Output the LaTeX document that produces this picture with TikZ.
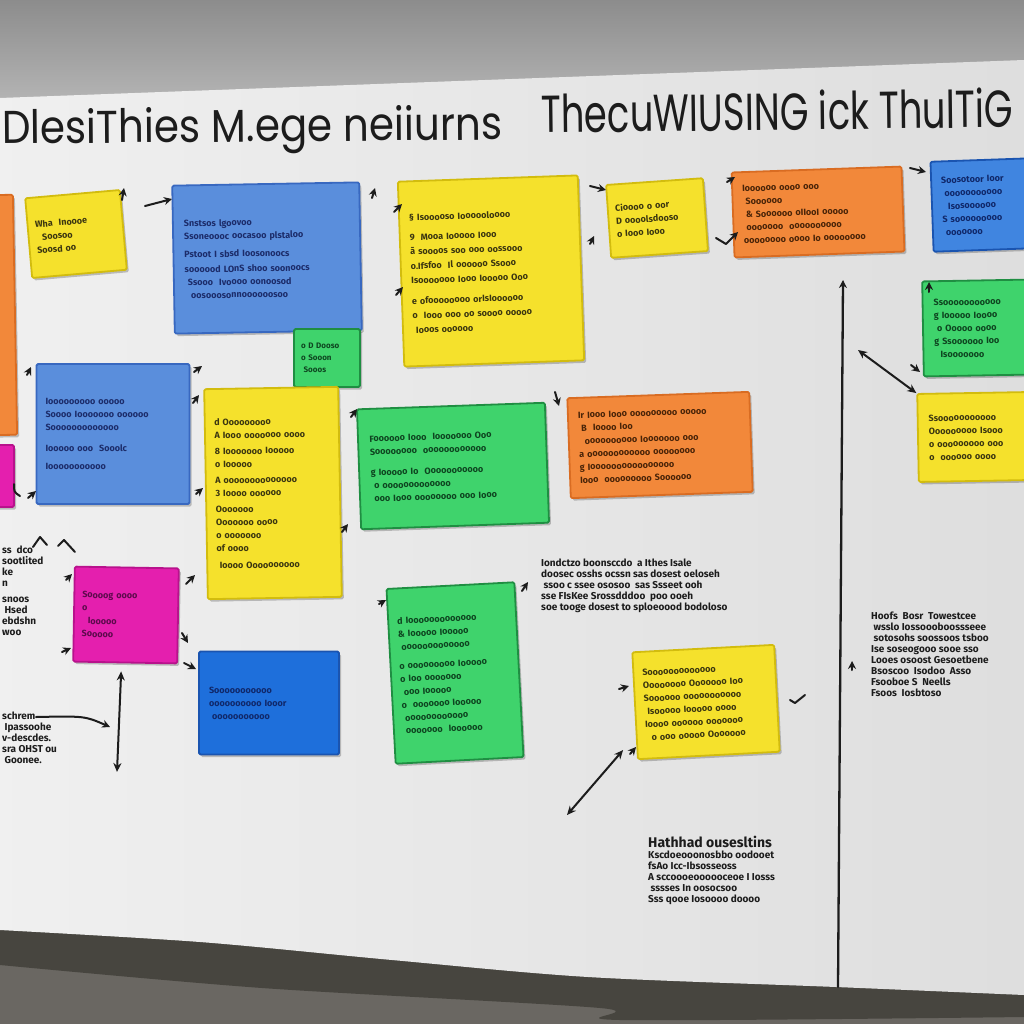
\documentclass[tikz,border=0pt]{standalone}
\usepackage{fontspec}
\setmainfont{Fira Sans}
\newfontfamily\titlefont{Poppins}
\usetikzlibrary{arrows.meta,calc,shadows}
\definecolor{ink}{HTML}{1C1C1C}
\definecolor{yel}{HTML}{F5E12C}\definecolor{yelB}{HTML}{D2BC0E}\definecolor{yelT}{HTML}{3B3610}
\definecolor{bluA}{HTML}{5A8EDC}\definecolor{bluAB}{HTML}{3868C0}\definecolor{bluAT}{HTML}{1C2C6A}
\definecolor{bluB}{HTML}{1E6FDB}\definecolor{bluBB}{HTML}{1A54B0}\definecolor{bluBT}{HTML}{10286A}
\definecolor{grn}{HTML}{3FD36C}\definecolor{grnB}{HTML}{1F8E42}\definecolor{grnT}{HTML}{0E4520}
\definecolor{org}{HTML}{F2883A}\definecolor{orgB}{HTML}{D96C22}\definecolor{orgT}{HTML}{4A2408}
\definecolor{mag}{HTML}{E41FAE}\definecolor{magB}{HTML}{B8128C}\definecolor{magT}{HTML}{5C0A4C}
\definecolor{floorA}{HTML}{6A6762}\definecolor{floorB}{HTML}{47453F}
\newcommand\notefont{\fontsize{9}{13}\selectfont\bfseries}
\newcommand\scribfont{\fontsize{10}{14}\selectfont\bfseries}
\tikzset{
  note/.style={draw, line width=1.8pt, line join=round, rounded corners=1.5pt, align=left,
    inner sep=5pt, font=\notefont,
    general shadow={fill=black, opacity=.22, shadow xshift=2pt, shadow yshift=-2.5pt}},
  ynote/.style={note, fill=yel, draw=yelB, text=yelT},
  anote/.style={note, fill=bluA, draw=bluAB, text=bluAT},
  bnote/.style={note, fill=bluB, draw=bluBB, text=bluBT},
  gnote/.style={note, fill=grn, draw=grnB, text=grnT},
  onote/.style={note, fill=org, draw=orgB, text=orgT},
  mnote/.style={note, fill=mag, draw=magB, text=magT},
  mk/.style={draw=ink, line width=2pt, line cap=round, line join=round},
  tip/.style={mk, -{Stealth[length=8pt,width=8pt]}},
  dbl/.style={mk, {Stealth[length=9pt,width=8pt]}-{Stealth[length=9pt,width=8pt]}},
  scrib/.style={font=\scribfont, text=ink, align=left, anchor=north west, inner sep=0pt},
  ttl/.style={text=ink, inner sep=0pt}
}
\begin{document}
\begin{tikzpicture}[x=1pt,y=-1pt]
\useasboundingbox (0,0) rectangle (1024,1024);
% wall and floor
\shade[top color=black!45, bottom color=black!28] (0,0) rectangle (1024,110);
\fill[floorA] (0,880) rectangle (1024,1024);
\fill[floorB] (0,925) -- plot[smooth] coordinates {(0,965)(262,988)(600,1008)(620,1020)(1024,1017)} -- (1024,990) -- cycle;
% whiteboard
\shade[left color=black!6, right color=black!13]
  (0,98) -- (1024,60) -- plot[smooth] coordinates {(1024,995)(836,987)(588,977)(392,960)(200,942)(0,930)} -- cycle;
% titles
\node[ttl, anchor=base west, rotate=0.5, xscale=0.88, font=\titlefont\fontsize{46}{46}\selectfont] (t1) at (2,144) {DlesiThies M.ege neiiurns};
\node[ttl, anchor=base west, rotate=0.7, xscale=0.71, font=\titlefont\fontsize{52}{52}\selectfont] (t2) at (541,133) {ThecuWIUSING ick ThulTiG};

% notes
\node[onote, minimum width=30, minimum height=240, rotate=1] (n1) at (0,315) {};
\node[mnote, minimum width=28, minimum height=62] (n2) at (0,476) {};
\node[ynote, minimum width=95, minimum height=80, text width=80, rotate=5] (n3) at (76,234)
  {Wha \ Inoooe\\ \ \ Soosoo\\ Soosd oo};
\node[anote, minimum width=187, minimum height=148, text width=165, rotate=1] (n4) at (267,258)
  {Snstsos lgoovoo\\ Ssoneoooc oocasoo plstaloo\\[5pt] Pstoot I sbsd Ioosonoocs\\[2pt] soooood LOnS shoo soonoocs\\ \ Ssooo \ Ivoooo oonoosod\\ \ \ oosooosonnoooooosoo};
\node[gnote, font=\fontsize{8}{12}\selectfont\bfseries, minimum width=66, minimum height=58, text width=52] (n5) at (327,358)
  {o D Dooso\\ o Sooon\\ \ Sooos};
\node[ynote, font=\fontsize{9}{14.5}\selectfont\bfseries, minimum width=180, minimum height=185, text width=160, rotate=2] (n6) at (491,271)
  {\S\ Isooooso Ioooooloooo\\[5pt] 9 \ Mooa Iooooo Iooo\\ \~a soooos soo ooo oossooo\\ o.Ifsfoo \ Il oooooo Ssooo\\ Isooooooo Iooo Iooooo Ooo\\[6pt] e ofoooooooo orIsIoooooo\\ o \ Iooo ooo oo soooo ooooo\\ \ Iooos oooooo};
\node[ynote, minimum width=97, minimum height=73, text width=82, rotate=4] (n7) at (657,218)
  {Cioooo o oor\\ D oooolsdooso\\ o Iooo Iooo};
\node[onote, minimum width=170, minimum height=85, text width=150, rotate=2] (n8) at (818,212)
  {Ioooooo oooo ooo\\ \ Soooooo\\ \ \& Soooooo oIIooI ooooo\\ \ ooooooo \ oooooooooo\\ oooooooo oooo Io oooooooo};
\node[bnote, fill=bluB!85!white, minimum width=100, minimum height=90, text width=80, rotate=2] (n9) at (982,205)
  {Soosotoor Ioor\\ \ ooooooooooo\\ \ \ Isosoooooo\\ S sooooooooo\\ \ ooooooo};
\node[gnote, minimum width=106, minimum height=95, text width=84, rotate=1] (n10) at (976,328)
  {Ssooooooooooo\\ g Iooooo Ioooo\\ \ o Ooooo oooo\\ g Ssoooooo Ioo\\ \ \ Isooooooo};
\node[ynote, minimum width=110, minimum height=88, text width=88, rotate=1] (n11) at (973,437)
  {Ssooooooooooo\\ Ooooooooo Isooo\\ o ooooooooo ooo\\ o \ oooooo oooo};
\node[anote, minimum width=153, minimum height=140, text width=135] (n12) at (113,434)
  {Iooooooooo ooooo\\ Soooo Iooooooo oooooo\\ Sooooooooooooo\\[8pt] Iooooo ooo \ Sooolc\\[5pt] Iooooooooooo};
\node[ynote, minimum width=134, minimum height=210, text width=115, rotate=1] (n13) at (273,493)
  {d Ooooooooo\\ A Iooo ooooooo oooo\\[3pt] 8 Iooooooo Iooooo\\ o Iooooo\\[3pt] A oooooooooooooo\\ 3 Ioooo oooooo\\[3pt] Ooooooo\\ Ooooooo oooo\\ o ooooooo\\ of oooo\\[4pt] \ Ioooo Oooooooooo};
\node[gnote, minimum width=188, minimum height=120, text width=165, rotate=2] (n14) at (453,466)
  {Foooooo Iooo \ Iooooooo Ooo\\ Soooooooo \ oooooooooooo\\[8pt] g Iooooo Io \ Ooooooooooo\\ \ o ooooooooooooo\\ \ ooo Iooo oooooooo ooo Iooo};
\node[onote, minimum width=182, minimum height=100, text width=162, rotate=2] (n15) at (660,445)
  {Ir Iooo Iooo ooooooooo ooooo\\ \ B \ Ioooo Ioo\\ \ \ oooooooooo Iooooooo ooo\\ a oooooooooooo oooooooo\\ g Ioooooooooooooooo\\ Iooo \ ooooooooo Soooooo};
\node[mnote, minimum width=104, minimum height=95, text width=88, rotate=-1] (n16) at (126,615)
  {Soooog oooo\\ o\\ \ \ Iooooo\\ Sooooo};
\node[bnote, minimum width=140, minimum height=103, text width=120] (n17) at (269,703)
  {Sooooooooooo\\ oooooooooo Iooor\\ \ ooooooooooo};
\node[gnote, minimum width=128, minimum height=175, text width=110, rotate=3] (n18) at (455,673)
  {d Iooooooooooooo\\ \& Iooooo Iooooo\\ \ ooooooooooooo\\[6pt] o ooooooooo Iooooo\\ o Ioo ooooooo\\ \ ooo Iooooo\\ o \ ooooooo Iooooo\\ \ oooooooooooo\\ \ ooooooo \ Ioooooo};
\node[ynote, minimum width=142, minimum height=107, text width=124, rotate=3] (n19) at (706,702)
  {Sooooooooooooo\\ Oooooooo Ooooooo Ioo\\ Soooooo ooooooooooo\\ \ Isooooo Iooooo oooo\\ Ioooo oooooo ooooooo\\ \ \ o ooo ooooo Ooooooo};

% free handwriting
\node[scrib] (w1) at (2,546) {ss \ dco\\[-3pt] sootlited\\[-3pt] ke\\[-3pt] n\\[2pt] snoos\\[-3pt] \ Hsed\\[-3pt] ebdshn\\[-3pt] woo};
\node[scrib] (w2) at (2,712) {schrem\\[-3pt] \ Ipassoohe\\[-3pt] v-descdes.\\[-3pt] sra OHST ou\\[-3pt] \ Goonee.};
\node[scrib] (w3) at (541,559) {Iondctzo boonsccdo \ a Ithes Isale\\[-3pt] doosec osshs ocssn sas dosest oeloseh\\[-3pt] \ ssoo c ssee ososoo \ sas Ssseet ooh\\[-3pt] sse FIsKee Srossdddoo \ poo ooeh\\[-3pt] soe tooge dosest to sploeoood bodoloso};
\node[scrib] (w4) at (871,612) {Hoofs \ Bosr \ Towestcee\\[-3pt] \ wsslo Iossoooboossseee\\[-3pt] \ sotosohs soossoos tsboo\\[-3pt] Ise soseogooo sooe sso\\[-3pt] Looes osoost Gesoetbene\\[-3pt] Bsoscoo \ Isodoo \ Asso\\[-3pt] Fsooboe S \ Neells\\[-3pt] Fsoos \ Iosbtoso};
\node[scrib] (w5) at (648,836) {{\fontsize{14}{16}\selectfont Hathhad ousesltins}\\[-3pt] Kscdoeooonosbbo oodooet\\[-3pt] fsAo Icc-Ibsosseoss\\[-3pt] A sccoooeoooooceoe I Iosss\\[-3pt] \ sssses In oosocsoo\\[-3pt] Sss qooe Iosoooo doooo};

% long connectors
\coordinate (v0) at (838,987);
\coordinate (v1) at (843,280);
\draw[tip, line width=2.3pt] (v0) -- (v1);
\coordinate (d0) at (858,350);
\draw[dbl] (d0) -- (n11.north west);
\coordinate (h0) at (36,717);
\coordinate (h1) at (110,727);
\draw[tip] (h0) .. controls (85,716) .. (h1);
\coordinate (u0) at (117,772);
\draw[dbl] (u0) -- ($(n16.south)+(-4,8)$);
\coordinate (e0) at (567,815);
\draw[dbl] (e0) -- ($(n19.south west)+(-14,-10)$);

% short marker stubs
\foreach \sx/\sy/\dx/\dy in {
  122/200/2/-12, 145/206/27/-7, 372/198/3/-10, 394/212/8/-8, 396/295/7/-8,
  590/186/16/4, 590/244/4/-8, 727/182/8/-5, 910/168/16/4, 929/292/0/-10,
  911/365/9/7, 27/375/4/-8, 194/372/8/-6, 193/403/6/-8, 196/494/7/-6,
  351/417/6/-8, 342/532/6/-8, 555/392/4/14, 66/580/6/-6, 62/652/9/-4,
  186/584/9/-9, 182/633/6/10, 184/663/12/6, 379/604/7/-4, 522/591/6/-9,
  619/689/10/-3, 630/754/6/-7, 852/670/0/-9, 28/498/8/-7}
{
  \coordinate (s) at (\sx,\sy);
  \draw[tip] (s) -- ++(\dx,\dy);
}
\coordinate (k0) at (716,238);
\draw[tip] (k0) -- ++(10,6) -- ++(12,-12);
\coordinate (k1) at (790,700);
\draw[mk] (k1) -- ++(5,3) -- ++(10,-8);
\coordinate (k2) at (14,484);
\draw[mk] (k2) .. controls ++(0,8) .. ++(6,12);
\coordinate (c1) at (33,547);
\draw[mk] (c1) -- ++(7,-10) -- ++(7,8);
\coordinate (c2) at (58,546);
\draw[mk] (c2) -- ++(6,-6) -- ++(11,12);
\end{tikzpicture}
\end{document}
